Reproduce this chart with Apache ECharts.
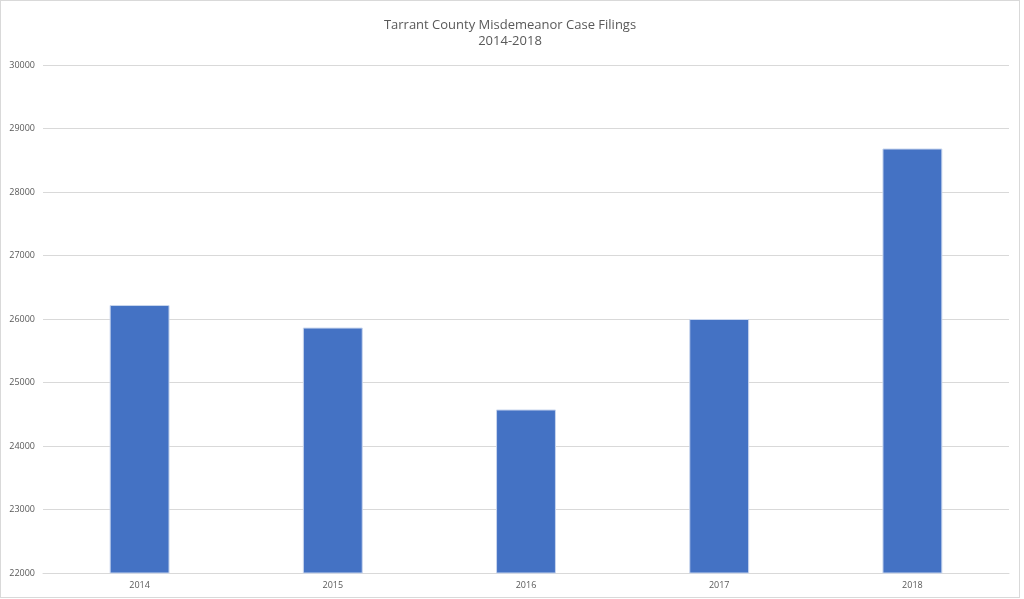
<!DOCTYPE html>
<html>
<head>
<meta charset="utf-8">
<script src="https://cdn.jsdelivr.net/npm/echarts@6/dist/echarts.min.js"></script>
<style>
  html, body { margin: 0; padding: 0; background: #fff; }
  #chart { position: absolute; left: 0; top: 0; width: 1018px; height: 596px; border: 1px solid #d9d9d9; }
</style>
</head>
<body>
<div id="chart"></div>
<script>
var years = ['2014', '2015', '2016', '2017', '2018'];
var filings = [26220, 25865, 24575, 26000, 28685];
var yTicks = [22000, 30000, 1000]; // min, max, step

var chartDom = document.getElementById('chart');
var myChart = echarts.init(chartDom);
var option;

option = {
    animation: false,
    title: {
        text: 'Tarrant County Misdemeanor Case Filings\n2014-2018',
        left: 'center',
        top: 11,
        textStyle: {
            fontFamily: 'Open Sans',
            fontSize: 13,
            fontWeight: 'normal',
            color: '#595959',
            lineHeight: 16
        }
    },
    grid: {
        left: 42,
        right: 10,
        top: 64,
        bottom: 24
    },
    xAxis: {
        type: 'category',
        data: years,
        axisLine: { lineStyle: { color: '#d9d9d9', width: 1 } },
        axisTick: { show: false },
        axisLabel: {
            fontFamily: 'Open Sans',
            fontSize: 9,
            color: '#595959',
            margin: 8
        }
    },
    yAxis: {
        type: 'value',
        min: yTicks[0],
        max: yTicks[1],
        interval: yTicks[2],
        axisLine: { show: false },
        axisTick: { show: false },
        axisLabel: {
            fontFamily: 'Open Sans',
            fontSize: 9,
            color: '#595959',
            margin: 8,
            formatter: function (v) { return String(v); }
        },
        splitLine: { lineStyle: { color: '#d9d9d9', width: 1 } }
    },
    series: [
        {
            type: 'bar',
            data: filings,
            barWidth: '31%',
            itemStyle: {
                color: '#4472C4',
                borderColor: '#c9d6ee',
                borderWidth: 1
            }
        }
    ]
};

option && myChart.setOption(option);
</script>
</body>
</html>
